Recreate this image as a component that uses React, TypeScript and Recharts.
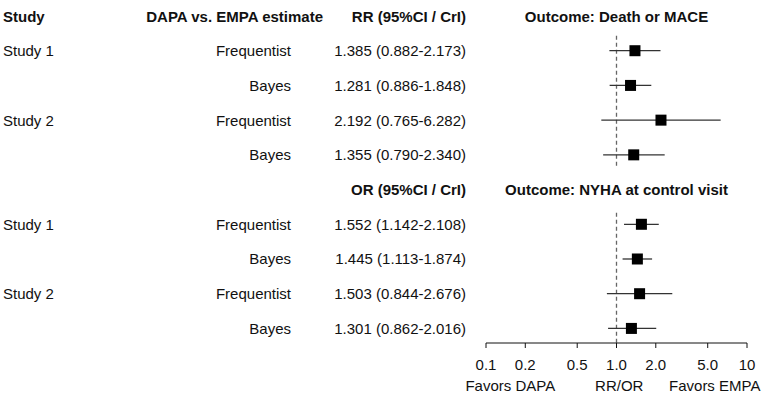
import {
  ErrorBar,
  ReferenceLine,
  Scatter,
  ScatterChart,
  XAxis,
  YAxis,
} from "recharts";

// Left-hand text columns, one entry per row (row 0 and 5 are headers)
const studyCol = ["Study", "Study 1", "", "Study 2", "", "", "Study 1", "", "Study 2", ""];
const methodCol = [
  "DAPA vs. EMPA estimate",
  "Frequentist",
  "Bayes",
  "Frequentist",
  "Bayes",
  "",
  "Frequentist",
  "Bayes",
  "Frequentist",
  "Bayes",
];
const headerRows = [0, 5];
const headerValues = ["RR (95%CI / CrI)", "OR (95%CI / CrI)"];
const outcomes = ["Outcome: Death or MACE", "Outcome: NYHA at control visit"];

// Death or MACE (RR)
const rrRows = [1, 2, 3, 4];
const rrEst = [1.385, 1.281, 2.192, 1.355];
const rrLow = [0.882, 0.886, 0.765, 0.79];
const rrHigh = [2.173, 1.848, 6.282, 2.34];

// NYHA at control visit (OR)
const orRows = [6, 7, 8, 9];
const orEst = [1.552, 1.445, 1.503, 1.301];
const orLow = [1.142, 1.113, 0.844, 0.862];
const orHigh = [2.108, 1.874, 2.676, 2.016];

const xTicks = [0.1, 0.2, 0.5, 1, 2, 5, 10];
const xTickLabels = ["0.1", "0.2", "0.5", "1.0", "2.0", "5.0", "10"];
const favorTicks = [0.1535, 1.05, 5.66];
const favorLabels = ["Favors DAPA", "RR/OR", "Favors EMPA"];

const FONT = "'Liberation Sans', Arial, sans-serif";
const INK = "#111";

const fmt = (v: number) => v.toFixed(3);

const points = [
  ...rrRows.map((row, i) => ({ row, x: rrEst[i], lo: rrLow[i], hi: rrHigh[i] })),
  ...orRows.map((row, i) => ({ row, x: orEst[i], lo: orLow[i], hi: orHigh[i] })),
].map((p) => ({ ...p, err: [p.x - p.lo, p.hi - p.x] }));

const titles = headerRows.map((row, i) => ({ row, x: 1, text: outcomes[i] }));

function valueText(row: number): string {
  const h = headerRows.indexOf(row);
  if (h >= 0) return headerValues[h];
  const p = points.find((d) => d.row === row);
  return p ? `${fmt(p.x)} (${fmt(p.lo)}-${fmt(p.hi)})` : "";
}

function RowTick({ y, payload }: any) {
  const row = payload.value as number;
  const bold = headerRows.includes(row);
  const common = {
    y,
    dominantBaseline: "central" as const,
    fontSize: 15,
    fontFamily: FONT,
    fill: INK,
    fontWeight: bold ? 700 : 400,
  };
  return (
    <g>
      <text {...common} x={3} textAnchor="start">
        {studyCol[row]}
      </text>
      <text {...common} x={row === 0 ? 323 : 291} textAnchor="end">
        {methodCol[row]}
      </text>
      <text {...common} x={466} textAnchor="end">
        {valueText(row)}
      </text>
    </g>
  );
}

function NumTick({ x, y, payload }: any) {
  const i = xTicks.indexOf(payload.value);
  return (
    <text x={x} y={y + 20} textAnchor="middle" fontSize={15} fontFamily={FONT} fill={INK}>
      {xTickLabels[i]}
    </text>
  );
}

function FavorTick({ x, y, payload }: any) {
  const i = favorTicks.indexOf(payload.value);
  return (
    <text x={x} y={y + 16} textAnchor="middle" fontSize={15} fontFamily={FONT} fill={INK}>
      {favorLabels[i]}
    </text>
  );
}

function Square({ cx, cy }: any) {
  return <rect x={cx - 5.5} y={cy - 5.5} width={11} height={11} fill="#000" />;
}

function Title({ cx, cy, payload }: any) {
  return (
    <text
      x={cx}
      y={cy}
      textAnchor="middle"
      dominantBaseline="central"
      fontSize={15}
      fontWeight={700}
      fontFamily={FONT}
      fill={INK}
    >
      {payload.text}
    </text>
  );
}

export default function App() {
  return (
    <div style={{ position: "absolute", left: 0, top: 0, background: "#fff" }}>
      <ScatterChart width={762} height={395} margin={{ top: 16, right: 15, bottom: 0, left: 0 }}>
        <XAxis
          xAxisId="a"
          dataKey="x"
          type="number"
          scale="log"
          domain={[0.1, 10]}
          ticks={xTicks}
          tick={<NumTick />}
          tickSize={5}
          height={30}
          stroke="#111"
          interval={0}
        />
        <XAxis
          xAxisId="b"
          dataKey="x"
          type="number"
          scale="log"
          domain={[0.1, 10]}
          allowDataOverflow
          ticks={favorTicks}
          tick={<FavorTick />}
          axisLine={false}
          tickLine={false}
          tickSize={0}
          height={22}
          interval={0}
        />
        <YAxis
          dataKey="row"
          type="number"
          domain={[0, 9.42]}
          reversed
          ticks={[0, 1, 2, 3, 4, 5, 6, 7, 8, 9]}
          tick={<RowTick />}
          axisLine={false}
          tickLine={false}
          width={486}
          interval={0}
        />
        <ReferenceLine
          xAxisId="a"
          segment={[
            { x: 1, y: 0.57 },
            { x: 1, y: 4.36 },
          ]}
          stroke="#666"
          strokeWidth={1.3}
          strokeDasharray="4 3"
        />
        <ReferenceLine
          xAxisId="a"
          segment={[
            { x: 1, y: 5.67 },
            { x: 1, y: 9.42 },
          ]}
          stroke="#666"
          strokeWidth={1.3}
          strokeDasharray="4 3"
        />
        <Scatter xAxisId="a" data={points} shape={<Square />} isAnimationActive={false}>
          <ErrorBar
            dataKey="err"
            direction="x"
            width={0}
            stroke="#333"
            strokeWidth={1.3}
            isAnimationActive={false}
          />
        </Scatter>
        <Scatter xAxisId="a" data={titles} shape={<Title />} isAnimationActive={false} />
      </ScatterChart>
    </div>
  );
}
